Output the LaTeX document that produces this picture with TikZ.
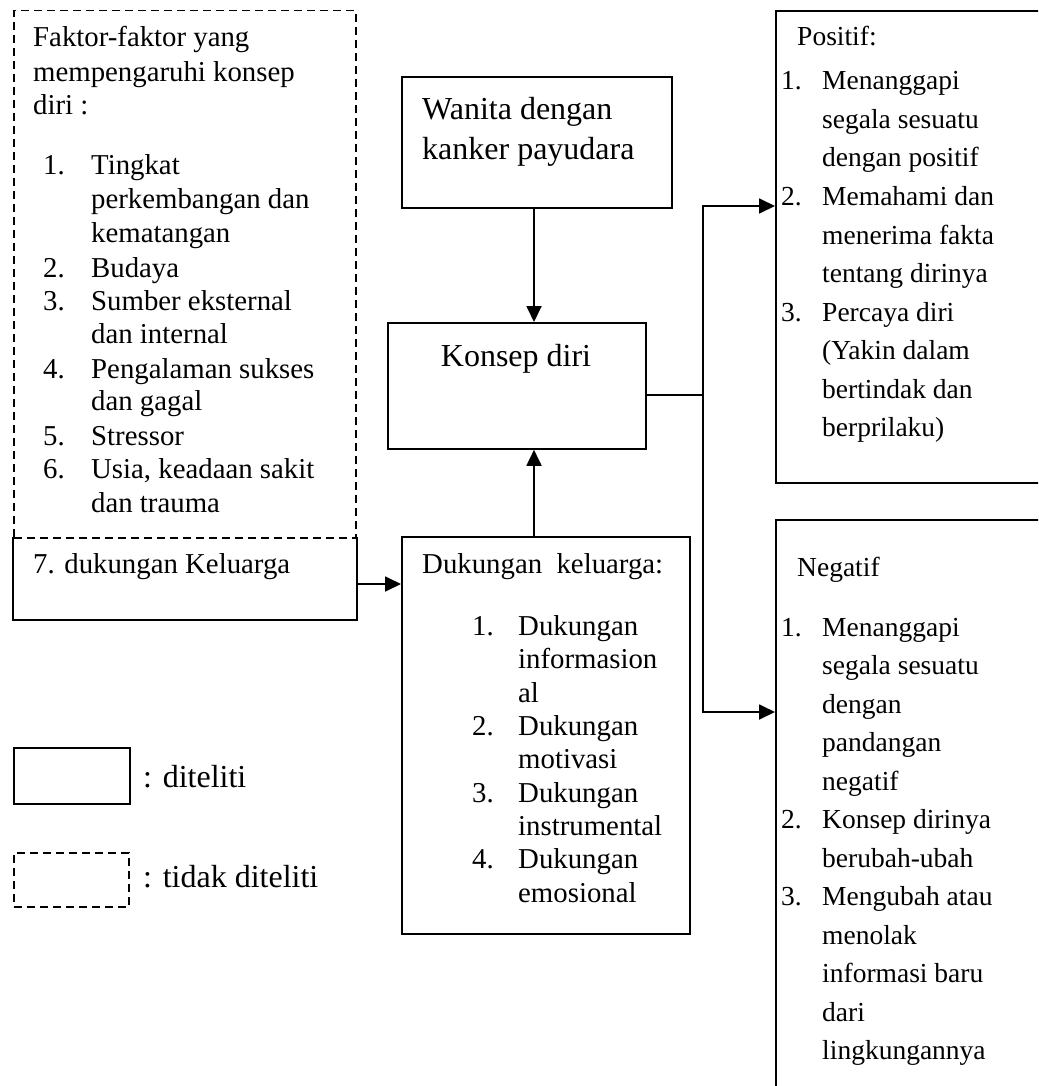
\documentclass[tikz,border=0pt]{standalone}
\usepackage{fontspec}
\setmainfont{Liberation Serif}
\usetikzlibrary{arrows.meta}
\begin{document}
\begin{tikzpicture}[x=1pt,y=-1pt,
  box/.style={draw, line width=1.8pt, inner sep=0pt, anchor=north west},
  dbox/.style={box, line width=1.5pt, dash pattern=on 8pt off 5pt},
  txt/.style={anchor=base west, inner sep=0pt, font=\fontsize{28.8}{33}\selectfont},
  bigtxt/.style={anchor=base west, inner sep=0pt, font=\fontsize{32}{38}\selectfont},
  rtxt/.style={anchor=base west, inner sep=0pt, font=\fontsize{27.5}{36}\selectfont},
  conn/.style={line width=1.8pt},
  arr/.style={conn, -{Triangle[length=16pt,width=15pt]}}]
\useasboundingbox (0,0) rectangle (1038,1086);
\clip (0,0) rectangle (1038,1086);

% boxes
\node[dbox, minimum width=342pt, minimum height=527pt] (fk) at (13,10) {};
\node[box, draw=none, minimum width=342pt, minimum height=81pt] (k7) at (13,537) {};
\draw[conn] (k7.north west) -- (k7.south west) -- (k7.south east) -- (k7.north east);
\node[box, minimum width=270pt, minimum height=131pt] (wn) at (401,76) {};
\node[box, minimum width=258pt, minimum height=126pt] (ks) at (387,322) {};
\node[box, minimum width=288pt, minimum height=397pt] (dk) at (401,536) {};
\node[box, minimum width=300pt, minimum height=472pt] (ps) at (775,10) {};
\node[box, minimum width=300pt, minimum height=620pt] (ng) at (775,519) {};
\node[box, minimum width=116pt, minimum height=56pt] (lg1) at (13,747) {};
\node[dbox, minimum width=115pt, minimum height=54pt] (lg2) at (13,852) {};

% connectors
\coordinate (ax) at (534,0);
\coordinate (a7) at (355,584);
\coordinate (jm) at (703,395);
\coordinate (jt) at (703,206);
\coordinate (jb) at (703,712);
\draw[arr] (k7.east |- a7) -- (dk.west |- a7);
\draw[arr] (wn.south -| ax) -- (ks.north -| ax);
\draw[arr] (dk.north -| ax) -- (ks.south -| ax);
\draw[conn] (ks.east |- jm) -- (jm);
\draw[arr] (jb) -- (jt) -- (ps.west |- jt);
\draw[arr] (jt) -- (jb) -- (ng.west |- jb);

% left dashed box text
\node[txt] (f1) at (33,47) {Faktor-faktor yang};
\node[txt] (f2) at (33,82) {mempengaruhi konsep};
\node[txt] (f3) at (33,115) {diri :};
\node[txt] (fn1) at (43,175) {1.};
\node[txt] (ft1) at (91,175) {Tingkat};
\node[txt] (ft1b) at (91,208) {perkembangan dan};
\node[txt] (ft1c) at (91,242) {kematangan};
\node[txt] (fn2) at (43,277) {2.};
\node[txt] (ft2) at (91,277) {Budaya};
\node[txt] (fn3) at (43,310) {3.};
\node[txt] (ft3) at (91,310) {Sumber eksternal};
\node[txt] (ft3b) at (91,343) {dan internal};
\node[txt] (fn4) at (43,378) {4.};
\node[txt] (ft4) at (91,378) {Pengalaman sukses};
\node[txt] (ft4b) at (91,410) {dan gagal};
\node[txt] (fn5) at (43,445) {5.};
\node[txt] (ft5) at (91,445) {Stressor};
\node[txt] (fn6) at (43,478) {6.};
\node[txt] (ft6) at (91,478) {Usia, keadaan sakit};
\node[txt] (ft6b) at (91,512) {dan trauma};
\node[txt] (t7) at (33,573) {7. dukungan Keluarga};

% Wanita, Konsep
\node[bigtxt] (w1) at (422,120) {Wanita dengan};
\node[bigtxt] (w2) at (422,160) {kanker payudara};
\node[bigtxt, anchor=base] (kt) at (516,366) {Konsep diri};

% Dukungan keluarga
\node[txt] (d0) at (422,573) {Dukungan\ \ keluarga:};
\node[txt] (dn1) at (472,635) {1.};
\node[txt] (dt1) at (518,635) {Dukungan};
\node[txt] (dt1b) at (518,668) {informasion};
\node[txt] (dt1c) at (518,702) {al};
\node[txt] (dn2) at (472,735) {2.};
\node[txt] (dt2) at (518,735) {Dukungan};
\node[txt] (dt2b) at (518,768) {motivasi};
\node[txt] (dn3) at (472,802) {3.};
\node[txt] (dt3) at (518,802) {Dukungan};
\node[txt] (dt3b) at (518,835) {instrumental};
\node[txt] (dn4) at (472,868) {4.};
\node[txt] (dt4) at (518,868) {Dukungan};
\node[txt] (dt4b) at (518,902) {emosional};

% legend
\node[bigtxt] (l1) at (143,787) {: diteliti};
\node[bigtxt] (l2) at (143,887) {: tidak diteliti};

% Positif
\node[rtxt] (p0) at (797,46) {Positif:};
\node[rtxt] (pn1) at (781,90) {1.};
\node[rtxt] (pt1) at (822,90) {Menanggapi};
\node[rtxt] (pt1b) at (822,128.5) {segala sesuatu};
\node[rtxt] (pt1c) at (822,167) {dengan positif};
\node[rtxt] (pn2) at (781,205.5) {2.};
\node[rtxt] (pt2) at (822,205.5) {Memahami dan};
\node[rtxt] (pt2b) at (822,244) {menerima fakta};
\node[rtxt] (pt2c) at (822,282.5) {tentang dirinya};
\node[rtxt] (pn3) at (781,321) {3.};
\node[rtxt] (pt3) at (822,321) {Percaya diri};
\node[rtxt] (pt3b) at (822,359.5) {(Yakin dalam};
\node[rtxt] (pt3c) at (822,398) {bertindak dan};
\node[rtxt] (pt3d) at (822,436.5) {berprilaku)};

% Negatif
\node[rtxt] (n0) at (797,576) {Negatif};
\node[rtxt] (nn1) at (781,636) {1.};
\node[rtxt] (nt1) at (822,636) {Menanggapi};
\node[rtxt] (nt1b) at (822,674.5) {segala sesuatu};
\node[rtxt] (nt1c) at (822,713) {dengan};
\node[rtxt] (nt1d) at (822,751.5) {pandangan};
\node[rtxt] (nt1e) at (822,790) {negatif};
\node[rtxt] (nn2) at (781,828.5) {2.};
\node[rtxt] (nt2) at (822,828.5) {Konsep dirinya};
\node[rtxt] (nt2b) at (822,867) {berubah-ubah};
\node[rtxt] (nn3) at (781,905.5) {3.};
\node[rtxt] (nt3) at (822,905.5) {Mengubah atau};
\node[rtxt] (nt3b) at (822,944) {menolak};
\node[rtxt] (nt3c) at (822,982.5) {informasi baru};
\node[rtxt] (nt3d) at (822,1021) {dari};
\node[rtxt] (nt3e) at (822,1059.5) {lingkungannya};
\end{tikzpicture}
\end{document}
